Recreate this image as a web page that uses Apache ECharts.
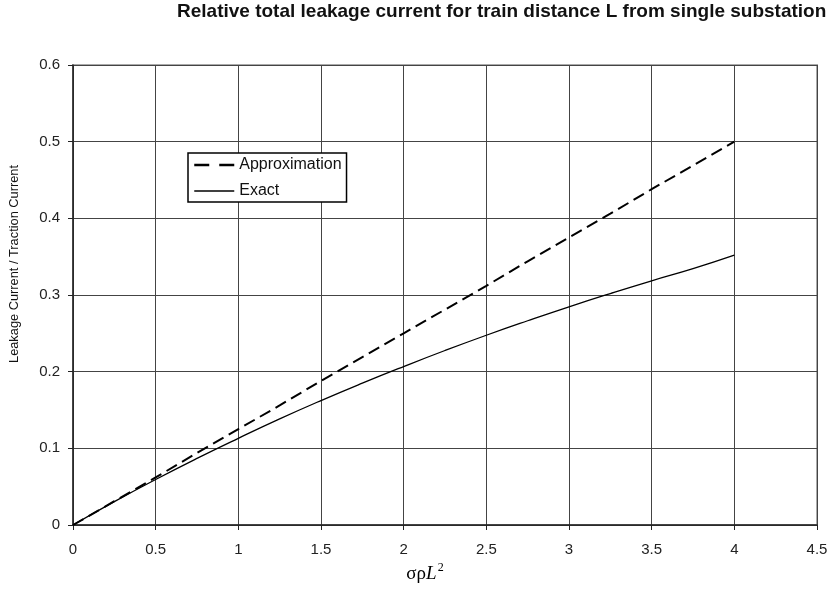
<!DOCTYPE html>
<html><head><meta charset="utf-8">
<script src="https://cdn.jsdelivr.net/npm/echarts@6/dist/echarts.min.js"></script>
<style>html,body{margin:0;padding:0;background:#fff}#c{width:831px;height:593px}</style>
</head><body><div id="c"></div>
<script>
const xValues = [0,0.25,0.5,0.75,1,1.25,1.5,1.75,2,2.25,2.5,2.75,3,3.25,3.5,3.75,4];
const approxValues = [0,0.031,0.062,0.094,0.125,0.156,0.188,0.219,0.25,0.281,0.312,0.344,0.375,0.406,0.438,0.469,0.5];
const exactValues = [0,0.0305,0.0594,0.0869,0.1131,0.1384,0.1623,0.185,0.2067,0.2276,0.2475,0.2664,0.2846,0.3019,0.3185,0.3343,0.3519];
const titleText = 'Relative total leakage current for train distance L from single substation';
const yName = 'Leakage Current / Traction Current';

const chart = echarts.init(document.getElementById('c'));
const font = 'Liberation Sans, Arial, sans-serif';
const serif = 'Liberation Serif, Times New Roman, serif';
chart.setOption({
  animation: false,
  backgroundColor: '#fff',
  title: {text: titleText, left: 177, top: 2, padding: 0,
    textStyle: {fontFamily: font, fontSize: 19, fontWeight: 'bold', color: '#111'}},
  grid: {left: 72, right: 14, top: 65, bottom: 68, show: true, borderColor: '#aaa', borderWidth: 2},
  legend: {
    orient: 'vertical', left: 188, top: 153, padding: [4, 5, 3, 5],
    borderColor: '#000', borderWidth: 1.5, backgroundColor: '#fff',
    itemWidth: 40, itemHeight: 14, itemGap: 10,
    itemStyle: {opacity: 0},
    textStyle: {fontFamily: font, fontSize: 16, color: '#111'},
    data: [
      {name: 'Approximation', lineStyle: {type: [15, 10], width: 2.5, color: '#000'}},
      {name: 'Exact', lineStyle: {width: 1.3, color: '#000'}}
    ]
  },
  xAxis: {
    type: 'value', min: 0, max: 4.5, interval: 0.5,
    name: '{a|σρ}{b|L}{c|2}', nameLocation: 'middle', nameGap: 32,
    nameTextStyle: {padding: [0, 40, 0, 0], rich: {
      a: {fontFamily: serif, fontSize: 19, color: '#000'},
      b: {fontFamily: serif, fontSize: 19, fontStyle: 'italic', color: '#000'},
      c: {fontFamily: serif, fontSize: 12, color: '#000', verticalAlign: 'top', padding: [0,0,12,1]}
    }},
    axisLine: {onZero: false, lineStyle: {color: '#222', width: 1.5}},
    axisTick: {show: true, length: 5, lineStyle: {color: '#222'}},
    axisLabel: {fontFamily: font, fontSize: 15, color: '#222', margin: 17},
    splitLine: {show: true, lineStyle: {color: '#444', width: 1}}
  },
  yAxis: {
    type: 'value', min: 0, max: 0.6, interval: 0.1,
    name: yName, nameLocation: 'middle', nameGap: 52, nameRotate: 90,
    nameTextStyle: {fontFamily: font, fontSize: 12.8, color: '#111', padding: [0, 0, 0, 62]},
    axisLine: {show: true, onZero: false, lineStyle: {color: '#222', width: 1.5}},
    axisTick: {show: true, length: 5, lineStyle: {color: '#222'}},
    axisLabel: {fontFamily: font, fontSize: 15, color: '#222', margin: 13},
    splitLine: {show: true, lineStyle: {color: '#444', width: 1}}
  },
  series: [
    {name: 'Approximation', type: 'line', symbol: 'none', smooth: false,
     data: xValues.map((x, i) => [x, approxValues[i]]),
     lineStyle: {color: '#000', width: 2, type: [12, 6]}, itemStyle: {color: '#000'}},
    {name: 'Exact', type: 'line', symbol: 'none', smooth: true,
     data: xValues.map((x, i) => [x, exactValues[i]]),
     lineStyle: {color: '#000', width: 1.3}, itemStyle: {color: '#000'}}
  ]
});
</script></body></html>
